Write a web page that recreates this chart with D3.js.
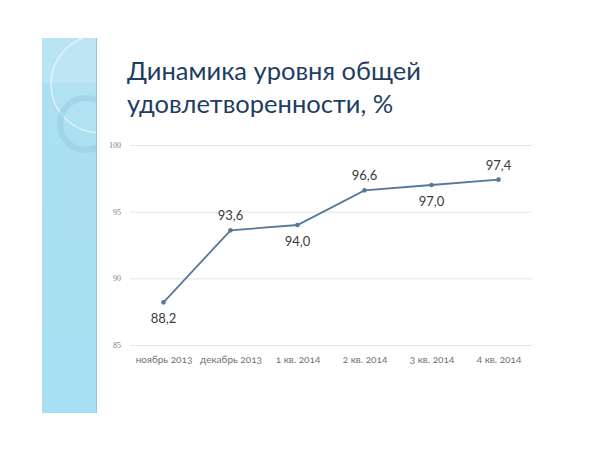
<!DOCTYPE html>
<html lang="ru">
<head>
  <meta charset="UTF-8">
  <title>Динамика уровня общей удовлетворенности</title>
  <style>
    body { margin: 0; background: #fff; }
    .title { font-family: Lato, "Noto Sans", sans-serif; fill: #1f3d63; }
    .y-axis text { font-family: "Liberation Serif", "DejaVu Serif", serif; font-size: 8px; fill: #808080; }
    .x-axis text { font-family: Lato, "Noto Sans", sans-serif; font-size: 10px; fill: #707070;
      font-variant-numeric: oldstyle-nums; }
    .label { font-family: Lato, "Noto Sans", sans-serif; font-size: 13px; fill: #3a3a3a; }
  </style>
</head>
<body>
  <svg class="chart"></svg>
  <script src="https://cdn.jsdelivr.net/npm/d3@7"></script>
  <script>
    // данные
    var categories = ["ноябрь 2013", "декабрь 2013", "1 кв. 2014", "2 кв. 2014", "3 кв. 2014", "4 кв. 2014"];
    var values = [88.2, 93.6, 94.0, 96.6, 97.0, 97.4];
    var labelSide = ["below", "above", "below", "above", "below", "above"];
    var yTicks = [85, 90, 95, 100];
    var titleLines = ["Динамика уровня общей", "удовлетворенности, %"];

    var svgWidth = 600, svgHeight = 450;
    var plotLeft = 130, plotRight = 532, plotTop = 145, plotBottom = 345;

    var svg = d3.select("svg")
      .attr("width", svgWidth)
      .attr("height", svgHeight);

    // декоративная полоса слева
    var defs = svg.append("defs");
    var grad = defs.append("linearGradient").attr("id", "panelGrad")
      .attr("x1", 0).attr("y1", 0).attr("x2", 0).attr("y2", 1);
    grad.append("stop").attr("offset", "0%").attr("stop-color", "#ade0f1");
    grad.append("stop").attr("offset", "100%").attr("stop-color", "#a6e0f2");
    defs.append("clipPath").attr("id", "panelClip")
      .append("rect").attr("x", 42).attr("y", 38).attr("width", 55).attr("height", 375);

    var panel = svg.append("g").attr("clip-path", "url(#panelClip)");
    panel.append("rect")
      .attr("x", 42).attr("y", 38).attr("width", 55).attr("height", 375)
      .attr("fill", "url(#panelGrad)");
    panel.append("rect")
      .attr("x", 42).attr("y", 38).attr("width", 55).attr("height", 45)
      .attr("fill", "#ffffff").attr("opacity", 0.15);
    panel.append("circle")
      .attr("cx", 100).attr("cy", 84).attr("r", 49)
      .attr("fill", "#ffffff").attr("fill-opacity", 0.07)
      .attr("stroke", "#ffffff").attr("stroke-opacity", 0.7).attr("stroke-width", 1.2);
    panel.append("circle")
      .attr("cx", 86).attr("cy", 124).attr("r", 26)
      .attr("fill", "none")
      .attr("stroke", "#84c2d8").attr("stroke-opacity", 0.35).attr("stroke-width", 6);
    svg.append("line")
      .attr("x1", 96.5).attr("x2", 96.5).attr("y1", 38).attr("y2", 413)
      .attr("stroke", "#8cc8de").attr("stroke-width", 1);

    // заголовок
    svg.append("text")
      .attr("class", "title")
      .attr("x", 127).attr("y", 80)
      .attr("font-size", 25.5)
      .selectAll("tspan")
      .data(titleLines)
      .enter()
      .append("tspan")
      .attr("x", 127)
      .attr("dy", (d, i) => i === 0 ? 0 : 33)
      .text(d => d);

    // шкалы
    var xScale = d3.scalePoint()
      .domain(categories)
      .range([plotLeft, plotRight])
      .padding(0.5);

    var yScale = d3.scaleLinear()
      .domain([85, 100])
      .range([plotBottom, plotTop]);

    var y_axis = d3.axisLeft(yScale)
      .tickValues(yTicks)
      .tickSize(-(plotRight - plotLeft))
      .tickPadding(9);

    svg.append("g")
      .attr("class", "y-axis")
      .attr("transform", `translate(${plotLeft}, 0)`)
      .call(y_axis)
      .call(g => g.select(".domain").remove())
      .call(g => g.selectAll(".tick line").attr("stroke", "#e4e4e4"));

    var x_axis = d3.axisBottom(xScale)
      .tickSize(0)
      .tickPadding(11);

    svg.append("g")
      .attr("class", "x-axis")
      .attr("transform", `translate(0, ${plotBottom})`)
      .call(x_axis)
      .call(g => g.select(".domain").remove());

    // линия
    var line = d3.line()
      .x((d, i) => xScale(categories[i]))
      .y(d => yScale(d));

    svg.append("path")
      .datum(values)
      .attr("fill", "none")
      .attr("stroke", "#56789a")
      .attr("stroke-width", 1.8)
      .attr("d", line);

    svg.selectAll(".dot")
      .data(values)
      .enter()
      .append("circle")
      .attr("class", "dot")
      .attr("cx", (d, i) => xScale(categories[i]))
      .attr("cy", d => yScale(d))
      .attr("r", 2.3)
      .attr("fill", "#56789a");

    svg.selectAll(".label")
      .data(values)
      .enter()
      .append("text")
      .attr("class", "label")
      .attr("text-anchor", "middle")
      .attr("x", (d, i) => xScale(categories[i]))
      .attr("y", (d, i) => labelSide[i] === "above" ? yScale(d) - 10 : yScale(d) + 21)
      .text(d => d.toFixed(1).replace(".", ","));
  </script>
</body>
</html>
